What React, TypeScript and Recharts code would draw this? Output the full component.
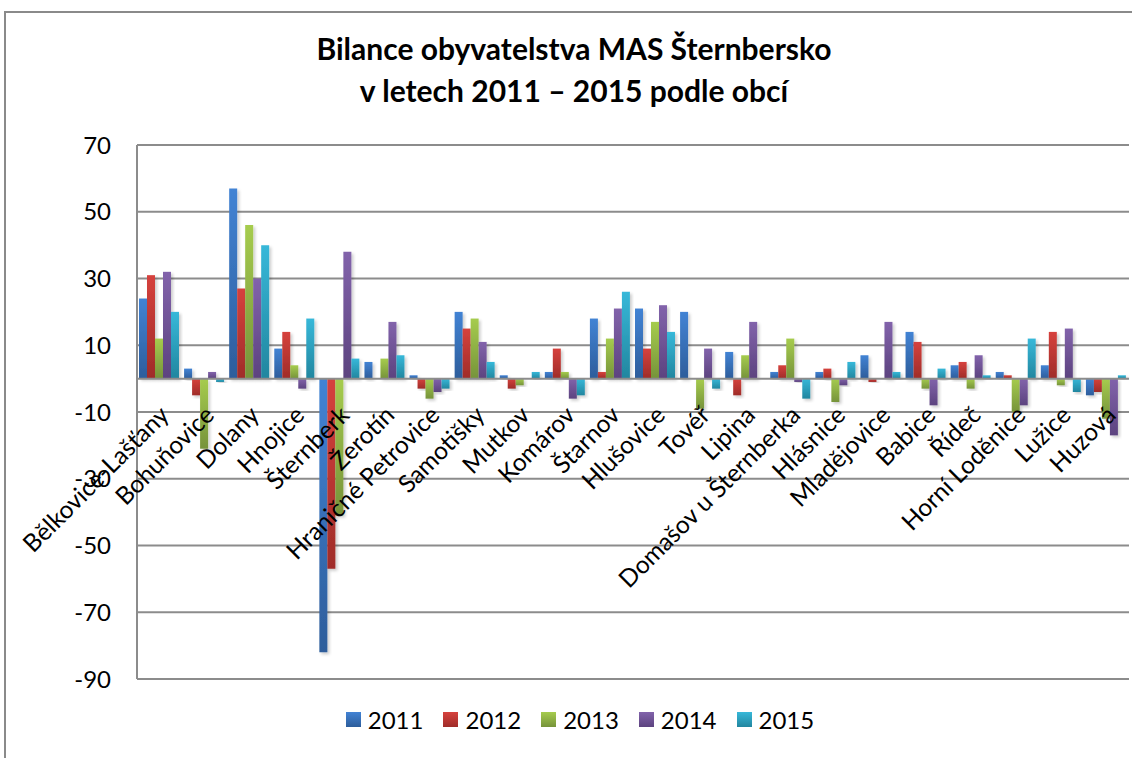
import React from "react";
import { BarChart, Bar, XAxis, YAxis, CartesianGrid, ReferenceLine } from "recharts";

// Obce MAS Šternbersko
const obce = [
  "Bělkovice-Lašťany", "Bohuňovice", "Dolany", "Hnojice", "Šternberk", "Žerotín",
  "Hraničné Petrovice", "Samotišky", "Mutkov", "Komárov", "Štarnov", "Hlušovice",
  "Tovéř", "Lipina", "Domašov u Šternberka", "Hlásnice", "Mladějovice", "Babice",
  "Řídeč", "Horní Loděnice", "Lužice", "Huzová",
];

const roky = ["2011", "2012", "2013", "2014", "2015"];

const bilance2011 = [24, 3, 57, 9, -82, 5, 1, 20, 1, 2, 18, 21, 20, 8, 2, 2, 7, 14, 4, 2, 4, -5];
const bilance2012 = [31, -5, 27, 14, -57, 0, -3, 15, -3, 9, 2, 9, 0, -5, 4, 3, -1, 11, 5, 1, 14, -4];
const bilance2013 = [12, -21, 46, 4, -41, 6, -6, 18, -2, 2, 12, 17, -9, 7, 12, -7, 0, -3, -3, -10, -2, -12];
const bilance2014 = [32, 2, 30, -3, 38, 17, -4, 11, 0, -6, 21, 22, 9, 17, -1, -2, 17, -8, 7, -8, 15, -17];
const bilance2015 = [20, -1, 40, 18, 6, 7, -3, 5, 2, -5, 26, 14, -3, 0, -6, 5, 2, 3, 1, 12, -4, 1];

const yTicks = [70, 50, 30, 10, -10, -30, -50, -70, -90];

// barvy (horní / dolní část přechodu)
const barvy = [
  ["#4283d4", "#2d5d9b"],
  ["#d6423d", "#9f2c29"],
  ["#a6cc4e", "#76933a"],
  ["#8263ab", "#5c437f"],
  ["#37b8d9", "#22869f"],
];

const data = obce.map((obec, i) => ({
  obec,
  "2011": bilance2011[i],
  "2012": bilance2012[i],
  "2013": bilance2013[i],
  "2014": bilance2014[i],
  "2015": bilance2015[i],
}));

const W = 1132;
const H = 758;
const MARGIN = { top: 145, right: 3, bottom: 78, left: 77 };
const X_AXIS_H = 1;
const Y_AXIS_W = 60;
const Y_MIN = -90;
const Y_MAX = 70;
const PLOT_H = H - MARGIN.top - MARGIN.bottom - X_AXIS_H;
const FONT = "Lato, 'Open Sans', sans-serif";

// popisky obcí u nulové osy, otočené o 45°
const ObecTick = ({ x, y, payload }: any) => {
  const zeroY = y - (PLOT_H * (0 - Y_MIN)) / (Y_MAX - Y_MIN);
  const tx = x + 11;
  const ty = zeroY + 38;
  return (
    <text
      x={tx}
      y={ty}
      transform={`rotate(-45, ${tx}, ${ty})`}
      textAnchor="end"
      fontSize={24.5}
      fontFamily={FONT}
      fill="#000"
    >
      {payload.value}
    </text>
  );
};

export default function App() {
  return (
    <div style={{ position: "absolute", left: 0, top: 0, width: W, height: H, background: "#fff", overflow: "hidden" }}>
      {/* rámeček grafu */}
      <div
        style={{
          position: "absolute",
          left: 4,
          top: 11,
          width: 1140,
          height: 760,
          border: "2px solid #8a8a8a",
        }}
      />
      <div
        style={{
          position: "absolute",
          left: 4,
          width: 1140,
          top: 27,
          textAlign: "center",
          fontFamily: FONT,
          fontWeight: 700,
          fontSize: 30,
          lineHeight: "42px",
          color: "#000",
        }}
      >
        Bilance obyvatelstva MAS Šternbersko
        <br />v letech 2011 – 2015 podle obcí
      </div>

      <div style={{ position: "absolute", left: 0, top: 0 }}>
        <BarChart width={W} height={H} data={data} margin={MARGIN} barCategoryGap={2} barGap={0}>
          <defs>
            {barvy.map(([a, b], i) => (
              <linearGradient key={i} id={`grad${i}`} x1="0" y1="0" x2="0" y2="1">
                <stop offset="0%" stopColor={a} />
                <stop offset="100%" stopColor={b} />
              </linearGradient>
            ))}
            <filter id="stin" x="-30%" y="-10%" width="180%" height="130%">
              <feDropShadow dx="2" dy="2" stdDeviation="1.5" floodColor="#000" floodOpacity="0.2" />
            </filter>
          </defs>
          <CartesianGrid horizontal vertical={false} stroke="#8c8c8c" strokeWidth={2} />
          <XAxis
            dataKey="obec"
            height={X_AXIS_H}
            interval={0}
            axisLine={false}
            tickLine={false}
            tickSize={0}
            tickMargin={0}
            tick={<ObecTick />}
          />
          <YAxis
            width={Y_AXIS_W}
            domain={[Y_MIN, Y_MAX]}
            ticks={yTicks}
            interval={0}
            axisLine={{ stroke: "#8c8c8c", strokeWidth: 2 }}
            tickLine={false}
            tickSize={0}
            tickMargin={26}
            tick={{ fill: "#000", fontSize: 24, fontFamily: FONT }}
          />
          <ReferenceLine y={0} stroke="#8c8c8c" strokeWidth={2} />
          {roky.map((rok, i) => (
            <Bar
              key={rok}
              dataKey={rok}
              fill={`url(#grad${i})`}
              filter="url(#stin)"
              isAnimationActive={false}
            />
          ))}
        </BarChart>
      </div>

      {/* legenda */}
      <div
        style={{
          position: "absolute",
          top: 705,
          left: 0,
          width: 1160,
          display: "flex",
          justifyContent: "center",
          gap: 20,
          fontFamily: FONT,
          fontSize: 24,
          color: "#000",
        }}
      >
        {roky.map((rok, i) => (
          <div key={rok} style={{ display: "flex", alignItems: "center" }}>
            <div
              style={{
                width: 15,
                height: 15,
                marginRight: 7,
                background: `linear-gradient(${barvy[i][0]}, ${barvy[i][1]})`,
              }}
            />
            <span>{rok}</span>
          </div>
        ))}
      </div>
    </div>
  );
}
